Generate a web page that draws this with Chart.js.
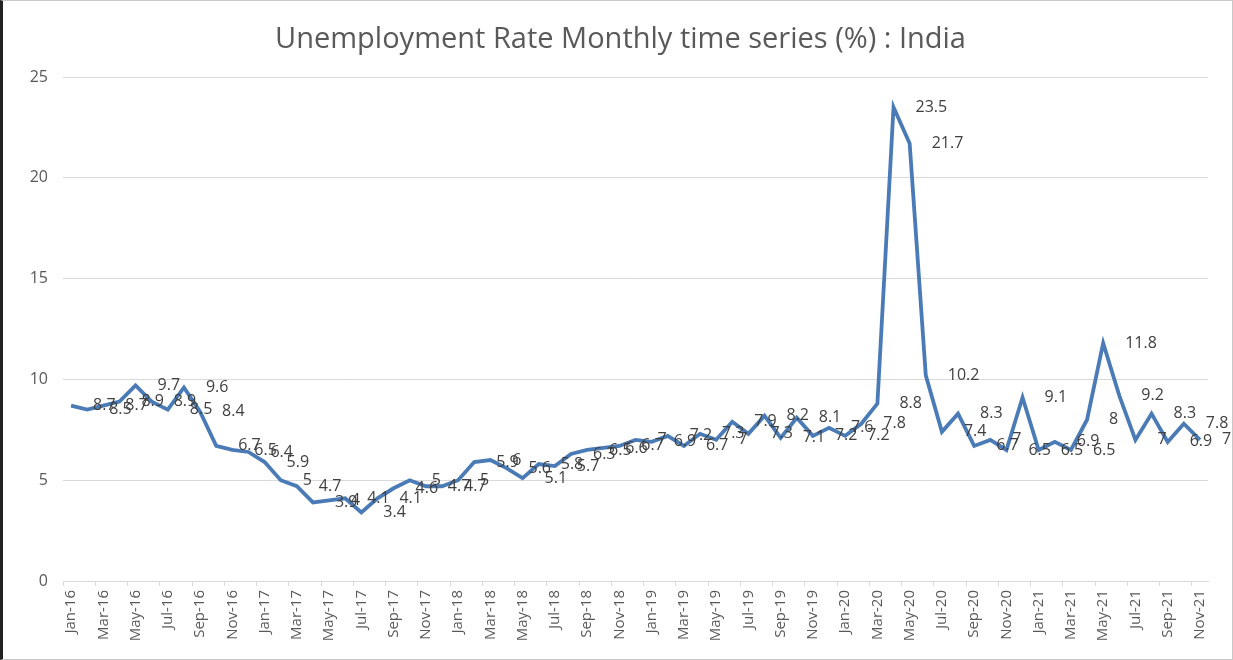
<!DOCTYPE html>
<html>
<head>
<meta charset="utf-8">
<script src="https://cdn.jsdelivr.net/npm/chart.js@4/dist/chart.umd.min.js"></script>
<style>
  html, body { margin: 0; padding: 0; background: #fff; }
  #wrap { position: relative; width: 1233px; height: 660px; }
  #frame { position: absolute; left: 0; top: 0; right: 0; bottom: 0;
           border: 1px solid #c8c8c8; border-left: 3px solid #222; pointer-events: none; }
</style>
</head>
<body>
<div id="wrap">
  <canvas id="chart" width="1233" height="660"></canvas>
  <div id="frame"></div>
</div>
<script>
// month names and years for the category axis
var monthNames = ["Jan", "Feb", "Mar", "Apr", "May", "Jun", "Jul", "Aug", "Sep", "Oct", "Nov", "Dec"];
var years = ["16", "17", "18", "19", "20", "21"];

// unemployment rate (%) per year
var rate2016 = [8.7, 8.5, 8.7, 8.9, 9.7, 8.9, 8.5, 9.6, 8.4, 6.7, 6.5, 6.4];
var rate2017 = [5.9, 5, 4.7, 3.9, 4, 4.1, 3.4, 4.1, 4.6, 5, 4.7, 4.7];
var rate2018 = [5, 5.9, 6, 5.6, 5.1, 5.8, 5.7, 6.3, 6.5, 6.6, 6.7, 7];
var rate2019 = [6.9, 7.2, 6.7, 7.3, 7, 7.9, 7.3, 8.2, 7.1, 8.1, 7.2, 7.6];
var rate2020 = [7.2, 7.8, 8.8, 23.5, 21.7, 10.2, 7.4, 8.3, 6.7, 7, 6.5, 9.1];
var rate2021 = [6.5, 6.9, 6.5, 8, 11.8, 9.2, 7, 8.3, 6.9, 7.8, 7];

var yTicks = [0, 5, 10, 15, 20, 25];

var titleText = "Unemployment Rate Monthly time series (%) : India";

var rates = rate2016.concat(rate2017, rate2018, rate2019, rate2020, rate2021);

var categories = [];
for (var y = 0; y < years.length; y++) {
    for (var m = 0; m < monthNames.length; m++) {
        if (categories.length < rates.length) {
            categories.push(monthNames[m] + "-" + years[y]);
        }
    }
}

Chart.defaults.font.family = "'Open Sans'";

// draws each value to the right of its point, like Excel's "Right" label position
var valueLabels = {
    id: "valueLabels",
    afterDatasetsDraw: function(chart) {
        var ctx = chart.ctx;
        var meta = chart.getDatasetMeta(0);
        ctx.save();
        ctx.font = "16px 'Open Sans'";
        ctx.fillStyle = "#404040";
        ctx.textAlign = "left";
        ctx.textBaseline = "middle";
        meta.data.forEach(function(pt, i) {
            ctx.fillText(String(rates[i]), pt.x + 22, pt.y);
        });
        ctx.restore();
    }
};

// title centred on the whole canvas (Excel centres it on the chart box)
var centredTitle = {
    id: "centredTitle",
    afterDraw: function(chart) {
        var ctx = chart.ctx;
        ctx.save();
        ctx.font = "29px 'Open Sans'";
        ctx.fillStyle = "#595959";
        ctx.textAlign = "center";
        ctx.textBaseline = "middle";
        ctx.fillText(titleText, chart.width / 2 + 4, 40);
        ctx.restore();
    }
};

var ctx1 = document.getElementById("chart");

var chart1 = new Chart(ctx1, {
    type: "line",
    data: {
        labels: categories,
        datasets: [
            {
                label: "Unemployment Rate",
                data: rates,
                borderColor: "#4a7bb7",
                borderWidth: 3.8,
                pointRadius: 0,
                tension: 0,
                fill: false
            }
        ]
    },
    options: {
        responsive: false,
        animation: false,
        layout: { padding: { left: 0, right: 25, top: 77, bottom: 0 } },
        plugins: {
            legend: { display: false },
            tooltip: { enabled: false },
            title: { display: false }
        },
        scales: {
            x: {
                offset: true,
                grid: {
                    offset: true,
                    drawOnChartArea: false,
                    tickLength: 5,
                    color: function(c) { return c.index % 2 === 0 ? "#d9d9d9" : "rgba(0,0,0,0)"; }
                },
                border: { color: "#d9d9d9" },
                ticks: {
                    autoSkip: false,
                    minRotation: 90,
                    maxRotation: 90,
                    padding: 4,
                    color: "#595959",
                    font: { size: 15 },
                    callback: function(v, i) { return i % 2 === 0 ? this.getLabelForValue(v) : ""; }
                },
                afterFit: function(s) { s.height = 79; }
            },
            y: {
                min: yTicks[0],
                max: yTicks[yTicks.length - 1],
                afterBuildTicks: function(s) { s.ticks = yTicks.map(function(v) { return { value: v }; }); },
                grid: { color: "#d9d9d9", drawTicks: false },
                border: { display: false },
                ticks: { padding: 15, color: "#595959", font: { size: 16 } },
                afterFit: function(s) { s.width = 63; }
            }
        }
    },
    plugins: [valueLabels, centredTitle]
});
</script>
</body>
</html>
